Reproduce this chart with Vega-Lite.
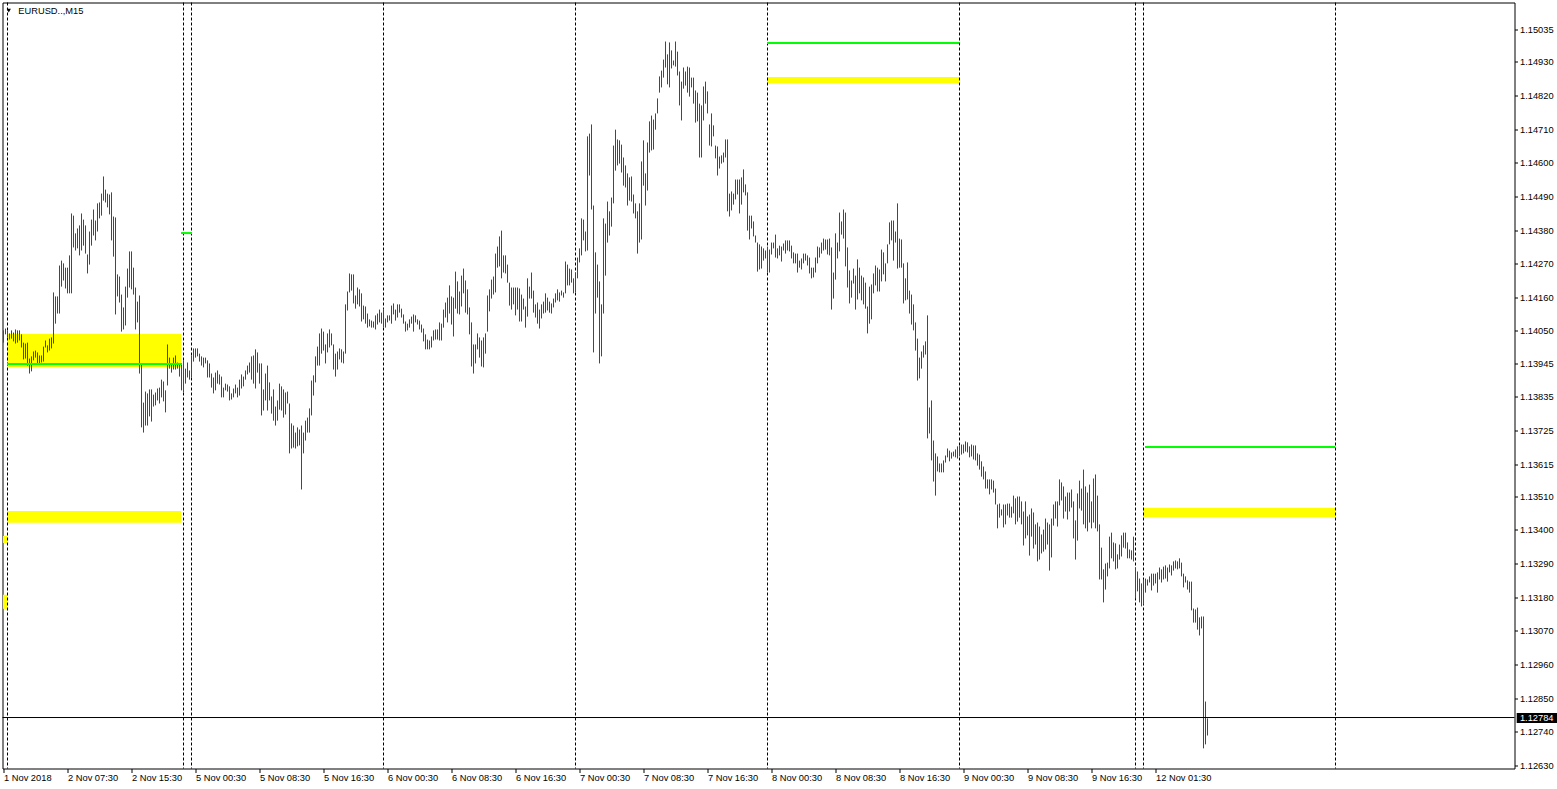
{
"$schema":"https://vega.github.io/schema/vega-lite/v6.json",
"width":1512,"height":766,
"autosize":{"type":"none"},
"padding":{"left":2.5,"top":2.5,"right":42.5,"bottom":20.5},
"background":"white",
"config":{"view":{"stroke":"black","strokeWidth":1},"text":{"font":"Liberation Sans"}},
"resolve":{"axis":{"x":"independent","y":"independent"}},
"datasets":{
"bars":[
{"i":0,"h":1.14052,"l":1.14012},{"i":1,"h":1.14058,"l":1.14039},{"i":2,"h":1.14052,"l":1.14029},{"i":3,"h":1.14042,"l":1.14022},{"i":4,"h":1.14052,"l":1.14025},{"i":5,"h":1.14045,"l":1.14016},{"i":6,"h":1.14055,"l":1.14009},{"i":7,"h":1.14052,"l":1.14012},{"i":8,"h":1.14052,"l":1.14019},{"i":9,"h":1.14039,"l":1.13996},
{"i":10,"h":1.14012,"l":1.13957},{"i":11,"h":1.14009,"l":1.13960},{"i":12,"h":1.14012,"l":1.13937},{"i":13,"h":1.13960,"l":1.13911},{"i":14,"h":1.13967,"l":1.13918},{"i":15,"h":1.13983,"l":1.13954},{"i":16,"h":1.13986,"l":1.13963},{"i":17,"h":1.13980,"l":1.13944},{"i":18,"h":1.13970,"l":1.13944},{"i":19,"h":1.13970,"l":1.13947},
{"i":20,"h":1.13999,"l":1.13950},{"i":21,"h":1.14019,"l":1.13996},{"i":22,"h":1.14003,"l":1.13980},{"i":23,"h":1.14025,"l":1.13986},{"i":24,"h":1.14029,"l":1.13993},{"i":25,"h":1.14176,"l":1.14009},{"i":26,"h":1.14163,"l":1.14074},{"i":27,"h":1.14163,"l":1.14107},{"i":28,"h":1.14264,"l":1.14107},{"i":29,"h":1.14280,"l":1.14195},
{"i":30,"h":1.14271,"l":1.14215},{"i":31,"h":1.14257,"l":1.14189},{"i":32,"h":1.14257,"l":1.14173},{"i":33,"h":1.14297,"l":1.14173},{"i":34,"h":1.14434,"l":1.14173},{"i":35,"h":1.14427,"l":1.14323},{"i":36,"h":1.14369,"l":1.14313},{"i":37,"h":1.14385,"l":1.14320},{"i":38,"h":1.14395,"l":1.14297},{"i":39,"h":1.14434,"l":1.14313},
{"i":40,"h":1.14414,"l":1.14329},{"i":41,"h":1.14395,"l":1.14303},{"i":42,"h":1.14300,"l":1.14238},{"i":43,"h":1.14375,"l":1.14267},{"i":44,"h":1.14414,"l":1.14329},{"i":45,"h":1.14447,"l":1.14362},{"i":46,"h":1.14411,"l":1.14346},{"i":47,"h":1.14467,"l":1.14375},{"i":48,"h":1.14470,"l":1.14418},{"i":49,"h":1.14499,"l":1.14427},
{"i":50,"h":1.14555,"l":1.14476},{"i":51,"h":1.14512,"l":1.14470},{"i":52,"h":1.14499,"l":1.14454},{"i":53,"h":1.14496,"l":1.14431},{"i":54,"h":1.14503,"l":1.14346},{"i":55,"h":1.14424,"l":1.14293},{"i":56,"h":1.14421,"l":1.14104},{"i":57,"h":1.14235,"l":1.14163},{"i":58,"h":1.14228,"l":1.14143},{"i":59,"h":1.14169,"l":1.14048},
{"i":60,"h":1.14127,"l":1.14055},{"i":61,"h":1.14195,"l":1.14068},{"i":62,"h":1.14254,"l":1.14159},{"i":63,"h":1.14310,"l":1.14192},{"i":64,"h":1.14310,"l":1.14186},{"i":65,"h":1.14257,"l":1.14169},{"i":66,"h":1.14192,"l":1.14055},{"i":67,"h":1.14146,"l":1.14078},{"i":68,"h":1.14166,"l":1.13911},{"i":69,"h":1.13940,"l":1.13735},
{"i":70,"h":1.13816,"l":1.13718},{"i":71,"h":1.13852,"l":1.13741},{"i":72,"h":1.13846,"l":1.13741},{"i":73,"h":1.13859,"l":1.13771},{"i":74,"h":1.13859,"l":1.13754},{"i":75,"h":1.13842,"l":1.13803},{"i":76,"h":1.13849,"l":1.13807},{"i":77,"h":1.13862,"l":1.13823},{"i":78,"h":1.13865,"l":1.13813},{"i":79,"h":1.13891,"l":1.13833},
{"i":80,"h":1.13885,"l":1.13820},{"i":81,"h":1.13856,"l":1.13784},{"i":82,"h":1.14006,"l":1.13872},{"i":83,"h":1.13963,"l":1.13927},{"i":84,"h":1.13944,"l":1.13914},{"i":85,"h":1.13963,"l":1.13924},{"i":86,"h":1.13970,"l":1.13924},{"i":87,"h":1.13947,"l":1.13927},{"i":88,"h":1.13944,"l":1.13901},{"i":89,"h":1.13940,"l":1.13856},
{"i":90,"h":1.13954,"l":1.13849},{"i":91,"h":1.13927,"l":1.13878},{"i":92,"h":1.13947,"l":1.13898},{"i":93,"h":1.13921,"l":1.13891},{"i":94,"h":1.13970,"l":1.13898},{"i":95,"h":1.13993,"l":1.13950},{"i":96,"h":1.13993,"l":1.13963},{"i":97,"h":1.13993,"l":1.13967},{"i":98,"h":1.13976,"l":1.13950},{"i":99,"h":1.13967,"l":1.13937},
{"i":100,"h":1.13963,"l":1.13931},{"i":101,"h":1.13963,"l":1.13944},{"i":102,"h":1.13954,"l":1.13898},{"i":103,"h":1.13944,"l":1.13898},{"i":104,"h":1.13911,"l":1.13865},{"i":105,"h":1.13898,"l":1.13846},{"i":106,"h":1.13914,"l":1.13856},{"i":107,"h":1.13921,"l":1.13878},{"i":108,"h":1.13908,"l":1.13875},{"i":109,"h":1.13901,"l":1.13833},
{"i":110,"h":1.13865,"l":1.13833},{"i":111,"h":1.13878,"l":1.13856},{"i":112,"h":1.13875,"l":1.13852},{"i":113,"h":1.13869,"l":1.13823},{"i":114,"h":1.13846,"l":1.13826},{"i":115,"h":1.13862,"l":1.13833},{"i":116,"h":1.13875,"l":1.13846},{"i":117,"h":1.13865,"l":1.13833},{"i":118,"h":1.13891,"l":1.13839},{"i":119,"h":1.13908,"l":1.13862},
{"i":120,"h":1.13901,"l":1.13869},{"i":121,"h":1.13921,"l":1.13891},{"i":122,"h":1.13937,"l":1.13908},{"i":123,"h":1.13947,"l":1.13914},{"i":124,"h":1.13967,"l":1.13891},{"i":125,"h":1.13970,"l":1.13878},{"i":126,"h":1.13990,"l":1.13862},{"i":127,"h":1.13980,"l":1.13914},{"i":128,"h":1.13944,"l":1.13878},{"i":129,"h":1.13944,"l":1.13774},
{"i":130,"h":1.13859,"l":1.13790},{"i":131,"h":1.13911,"l":1.13823},{"i":132,"h":1.13937,"l":1.13790},{"i":133,"h":1.13882,"l":1.13823},{"i":134,"h":1.13836,"l":1.13780},{"i":135,"h":1.13859,"l":1.13757},{"i":136,"h":1.13803,"l":1.13741},{"i":137,"h":1.13823,"l":1.13757},{"i":138,"h":1.13878,"l":1.13793},{"i":139,"h":1.13869,"l":1.13790},
{"i":140,"h":1.13859,"l":1.13767},{"i":141,"h":1.13849,"l":1.13777},{"i":142,"h":1.13852,"l":1.13813},{"i":143,"h":1.13813,"l":1.13650},{"i":144,"h":1.13748,"l":1.13666},{"i":145,"h":1.13741,"l":1.13669},{"i":146,"h":1.13718,"l":1.13666},{"i":147,"h":1.13735,"l":1.13673},{"i":148,"h":1.13728,"l":1.13676},{"i":149,"h":1.13741,"l":1.13532},
{"i":150,"h":1.13718,"l":1.13650},{"i":151,"h":1.13757,"l":1.13692},{"i":152,"h":1.13767,"l":1.13718},{"i":153,"h":1.13797,"l":1.13718},{"i":154,"h":1.13888,"l":1.13774},{"i":155,"h":1.13905,"l":1.13839},{"i":156,"h":1.13967,"l":1.13882},{"i":157,"h":1.13999,"l":1.13937},{"i":158,"h":1.14042,"l":1.13937},{"i":159,"h":1.14058,"l":1.13976},
{"i":160,"h":1.14048,"l":1.13986},{"i":161,"h":1.14006,"l":1.13944},{"i":162,"h":1.14042,"l":1.13980},{"i":163,"h":1.14055,"l":1.13996},{"i":164,"h":1.14042,"l":1.14003},{"i":165,"h":1.14006,"l":1.13924},{"i":166,"h":1.13976,"l":1.13901},{"i":167,"h":1.13983,"l":1.13924},{"i":168,"h":1.13993,"l":1.13957},{"i":169,"h":1.13990,"l":1.13947},
{"i":170,"h":1.13983,"l":1.13944},{"i":171,"h":1.14137,"l":1.13976},{"i":172,"h":1.14179,"l":1.14117},{"i":173,"h":1.14238,"l":1.14176},{"i":174,"h":1.14235,"l":1.14182},{"i":175,"h":1.14235,"l":1.14140},{"i":176,"h":1.14166,"l":1.14123},{"i":177,"h":1.14192,"l":1.14137},{"i":178,"h":1.14186,"l":1.14130},{"i":179,"h":1.14173,"l":1.14081},
{"i":180,"h":1.14133,"l":1.14088},{"i":181,"h":1.14130,"l":1.14074},{"i":182,"h":1.14107,"l":1.14061},{"i":183,"h":1.14088,"l":1.14065},{"i":184,"h":1.14084,"l":1.14061},{"i":185,"h":1.14081,"l":1.14061},{"i":186,"h":1.14101,"l":1.14055},{"i":187,"h":1.14107,"l":1.14071},{"i":188,"h":1.14120,"l":1.14078},{"i":189,"h":1.14110,"l":1.14074},
{"i":190,"h":1.14123,"l":1.14061},{"i":191,"h":1.14091,"l":1.14061},{"i":192,"h":1.14101,"l":1.14078},{"i":193,"h":1.14101,"l":1.14084},{"i":194,"h":1.14133,"l":1.14074},{"i":195,"h":1.14140,"l":1.14104},{"i":196,"h":1.14120,"l":1.14084},{"i":197,"h":1.14137,"l":1.14094},{"i":198,"h":1.14137,"l":1.14110},{"i":199,"h":1.14123,"l":1.14094},
{"i":200,"h":1.14104,"l":1.14074},{"i":201,"h":1.14081,"l":1.14048},{"i":202,"h":1.14074,"l":1.14052},{"i":203,"h":1.14088,"l":1.14061},{"i":204,"h":1.14097,"l":1.14074},{"i":205,"h":1.14104,"l":1.14048},{"i":206,"h":1.14101,"l":1.14078},{"i":207,"h":1.14088,"l":1.14071},{"i":208,"h":1.14084,"l":1.14055},{"i":209,"h":1.14071,"l":1.14045},
{"i":210,"h":1.14058,"l":1.14016},{"i":211,"h":1.14039,"l":1.13990},{"i":212,"h":1.14022,"l":1.13990},{"i":213,"h":1.14019,"l":1.13990},{"i":214,"h":1.14032,"l":1.13996},{"i":215,"h":1.14052,"l":1.14019},{"i":216,"h":1.14055,"l":1.14022},{"i":217,"h":1.14055,"l":1.14022},{"i":218,"h":1.14078,"l":1.14019},{"i":219,"h":1.14074,"l":1.14019},
{"i":220,"h":1.14120,"l":1.14061},{"i":221,"h":1.14143,"l":1.14094},{"i":222,"h":1.14159,"l":1.14078},{"i":223,"h":1.14199,"l":1.14107},{"i":224,"h":1.14163,"l":1.14071},{"i":225,"h":1.14159,"l":1.14032},{"i":226,"h":1.14244,"l":1.14123},{"i":227,"h":1.14212,"l":1.14107},{"i":228,"h":1.14179,"l":1.14104},{"i":229,"h":1.14231,"l":1.14130},
{"i":230,"h":1.14254,"l":1.14173},{"i":231,"h":1.14215,"l":1.14110},{"i":232,"h":1.14186,"l":1.14104},{"i":233,"h":1.14127,"l":1.14039},{"i":234,"h":1.14078,"l":1.13934},{"i":235,"h":1.14006,"l":1.13911},{"i":236,"h":1.14006,"l":1.13944},{"i":237,"h":1.14042,"l":1.13990},{"i":238,"h":1.14029,"l":1.13963},{"i":239,"h":1.14019,"l":1.13934},
{"i":240,"h":1.14029,"l":1.13931},{"i":241,"h":1.14042,"l":1.13976},{"i":242,"h":1.14166,"l":1.14048},{"i":243,"h":1.14186,"l":1.14114},{"i":244,"h":1.14218,"l":1.14156},{"i":245,"h":1.14228,"l":1.14169},{"i":246,"h":1.14303,"l":1.14176},{"i":247,"h":1.14326,"l":1.14257},{"i":248,"h":1.14359,"l":1.14261},{"i":249,"h":1.14378,"l":1.14222},
{"i":250,"h":1.14297,"l":1.14241},{"i":251,"h":1.14297,"l":1.14238},{"i":252,"h":1.14267,"l":1.14208},{"i":253,"h":1.14208,"l":1.14133},{"i":254,"h":1.14192,"l":1.14120},{"i":255,"h":1.14192,"l":1.14137},{"i":256,"h":1.14192,"l":1.14101},{"i":257,"h":1.14192,"l":1.14120},{"i":258,"h":1.14189,"l":1.14081},{"i":259,"h":1.14169,"l":1.14081},
{"i":260,"h":1.14156,"l":1.14120},{"i":261,"h":1.14130,"l":1.14061},{"i":262,"h":1.14222,"l":1.14097},{"i":263,"h":1.14195,"l":1.14156},{"i":264,"h":1.14241,"l":1.14156},{"i":265,"h":1.14182,"l":1.14110},{"i":266,"h":1.14137,"l":1.14094},{"i":267,"h":1.14143,"l":1.14074},{"i":268,"h":1.14120,"l":1.14058},{"i":269,"h":1.14137,"l":1.14091},
{"i":270,"h":1.14146,"l":1.14107},{"i":271,"h":1.14173,"l":1.14110},{"i":272,"h":1.14159,"l":1.14117},{"i":273,"h":1.14146,"l":1.14110},{"i":274,"h":1.14140,"l":1.14107},{"i":275,"h":1.14156,"l":1.14127},{"i":276,"h":1.14173,"l":1.14143},{"i":277,"h":1.14186,"l":1.14150},{"i":278,"h":1.14176,"l":1.14146},{"i":279,"h":1.14182,"l":1.14166},
{"i":280,"h":1.14176,"l":1.14159},{"i":281,"h":1.14277,"l":1.14173},{"i":282,"h":1.14267,"l":1.14199},{"i":283,"h":1.14254,"l":1.14199},{"i":284,"h":1.14251,"l":1.14208},{"i":285,"h":1.14222,"l":1.14173},{"i":286,"h":1.14241,"l":1.14176},{"i":287,"h":1.14290,"l":1.14222},{"i":288,"h":1.14320,"l":1.14274},{"i":289,"h":1.14418,"l":1.14297},
{"i":290,"h":1.14414,"l":1.14346},{"i":291,"h":1.14375,"l":1.14310},{"i":292,"h":1.14686,"l":1.14313},{"i":293,"h":1.14695,"l":1.14558},{"i":294,"h":1.14725,"l":1.14447},{"i":295,"h":1.14460,"l":1.13980},{"i":296,"h":1.14307,"l":1.14107},{"i":297,"h":1.14267,"l":1.14159},{"i":298,"h":1.14212,"l":1.13944},{"i":299,"h":1.14137,"l":1.13967},
{"i":300,"h":1.14418,"l":1.14107},{"i":301,"h":1.14401,"l":1.14231},{"i":302,"h":1.14473,"l":1.14339},{"i":303,"h":1.14441,"l":1.14362},{"i":304,"h":1.14486,"l":1.14391},{"i":305,"h":1.14656,"l":1.14467},{"i":306,"h":1.14708,"l":1.14574},{"i":307,"h":1.14676,"l":1.14591},{"i":308,"h":1.14673,"l":1.14597},{"i":309,"h":1.14659,"l":1.14568},
{"i":310,"h":1.14617,"l":1.14525},{"i":311,"h":1.14591,"l":1.14519},{"i":312,"h":1.14565,"l":1.14460},{"i":313,"h":1.14552,"l":1.14476},{"i":314,"h":1.14555,"l":1.14473},{"i":315,"h":1.14496,"l":1.14434},{"i":316,"h":1.14467,"l":1.14418},{"i":317,"h":1.14441,"l":1.14303},{"i":318,"h":1.14467,"l":1.14339},{"i":319,"h":1.14604,"l":1.14349},
{"i":320,"h":1.14673,"l":1.14525},{"i":321,"h":1.14565,"l":1.14460},{"i":322,"h":1.14666,"l":1.14509},{"i":323,"h":1.14735,"l":1.14633},{"i":324,"h":1.14754,"l":1.14640},{"i":325,"h":1.14741,"l":1.14643},{"i":326,"h":1.14761,"l":1.14708},{"i":327,"h":1.14810,"l":1.14761},{"i":328,"h":1.14882,"l":1.14829},{"i":329,"h":1.14901,"l":1.14846},
{"i":330,"h":1.14937,"l":1.14878},{"i":331,"h":1.14996,"l":1.14911},{"i":332,"h":1.14954,"l":1.14856},{"i":333,"h":1.14993,"l":1.14846},{"i":334,"h":1.14967,"l":1.14908},{"i":335,"h":1.14934,"l":1.14918},{"i":336,"h":1.14996,"l":1.14914},{"i":337,"h":1.14963,"l":1.14885},{"i":338,"h":1.14898,"l":1.14787},{"i":339,"h":1.14865,"l":1.14738},
{"i":340,"h":1.14911,"l":1.14842},{"i":341,"h":1.14898,"l":1.14852},{"i":342,"h":1.14914,"l":1.14829},{"i":343,"h":1.14911,"l":1.14816},{"i":344,"h":1.14878,"l":1.14846},{"i":345,"h":1.14878,"l":1.14793},{"i":346,"h":1.14836,"l":1.14731},{"i":347,"h":1.14829,"l":1.14735},{"i":348,"h":1.14793,"l":1.14617},{"i":349,"h":1.14787,"l":1.14617},
{"i":350,"h":1.14849,"l":1.14738},{"i":351,"h":1.14865,"l":1.14793},{"i":352,"h":1.14833,"l":1.14761},{"i":353,"h":1.14725,"l":1.14656},{"i":354,"h":1.14761,"l":1.14653},{"i":355,"h":1.14722,"l":1.14686},{"i":356,"h":1.14656,"l":1.14614},{"i":357,"h":1.14653,"l":1.14558},{"i":358,"h":1.14620,"l":1.14581},{"i":359,"h":1.14624,"l":1.14597},
{"i":360,"h":1.14633,"l":1.14601},{"i":361,"h":1.14676,"l":1.14617},{"i":362,"h":1.14676,"l":1.14441},{"i":363,"h":1.14499,"l":1.14424},{"i":364,"h":1.14506,"l":1.14444},{"i":365,"h":1.14499,"l":1.14463},{"i":366,"h":1.14545,"l":1.14480},{"i":367,"h":1.14545,"l":1.14496},{"i":368,"h":1.14545,"l":1.14434},{"i":369,"h":1.14552,"l":1.14463},
{"i":370,"h":1.14578,"l":1.14503},{"i":371,"h":1.14529,"l":1.14493},{"i":372,"h":1.14503,"l":1.14378},{"i":373,"h":1.14427,"l":1.14349},{"i":374,"h":1.14427,"l":1.14385},{"i":375,"h":1.14408,"l":1.14359},{"i":376,"h":1.14362,"l":1.14339},{"i":377,"h":1.14339,"l":1.14244},{"i":378,"h":1.14333,"l":1.14251},{"i":379,"h":1.14326,"l":1.14254},
{"i":380,"h":1.14320,"l":1.14280},{"i":381,"h":1.14313,"l":1.14287},{"i":382,"h":1.14326,"l":1.14241},{"i":383,"h":1.14316,"l":1.14241},{"i":384,"h":1.14339,"l":1.14300},{"i":385,"h":1.14339,"l":1.14320},{"i":386,"h":1.14365,"l":1.14290},{"i":387,"h":1.14320,"l":1.14287},{"i":388,"h":1.14329,"l":1.14297},{"i":389,"h":1.14326,"l":1.14277},
{"i":390,"h":1.14336,"l":1.14313},{"i":391,"h":1.14346,"l":1.14303},{"i":392,"h":1.14346,"l":1.14313},{"i":393,"h":1.14346,"l":1.14310},{"i":394,"h":1.14329,"l":1.14287},{"i":395,"h":1.14307,"l":1.14271},{"i":396,"h":1.14303,"l":1.14271},{"i":397,"h":1.14303,"l":1.14241},{"i":398,"h":1.14280,"l":1.14257},{"i":399,"h":1.14287,"l":1.14251},
{"i":400,"h":1.14303,"l":1.14271},{"i":401,"h":1.14303,"l":1.14280},{"i":402,"h":1.14297,"l":1.14264},{"i":403,"h":1.14290,"l":1.14238},{"i":404,"h":1.14257,"l":1.14222},{"i":405,"h":1.14257,"l":1.14225},{"i":406,"h":1.14290,"l":1.14241},{"i":407,"h":1.14326,"l":1.14271},{"i":408,"h":1.14323,"l":1.14290},{"i":409,"h":1.14339,"l":1.14303},
{"i":410,"h":1.14352,"l":1.14313},{"i":411,"h":1.14349,"l":1.14316},{"i":412,"h":1.14349,"l":1.14300},{"i":413,"h":1.14352,"l":1.14297},{"i":414,"h":1.14323,"l":1.14120},{"i":415,"h":1.14241,"l":1.14156},{"i":416,"h":1.14369,"l":1.14218},{"i":417,"h":1.14339,"l":1.14287},{"i":418,"h":1.14437,"l":1.14310},{"i":419,"h":1.14408,"l":1.14365},
{"i":420,"h":1.14447,"l":1.14352},{"i":421,"h":1.14437,"l":1.14261},{"i":422,"h":1.14323,"l":1.14192},{"i":423,"h":1.14248,"l":1.14140},{"i":424,"h":1.14215,"l":1.14159},{"i":425,"h":1.14254,"l":1.14205},{"i":426,"h":1.14231,"l":1.14120},{"i":427,"h":1.14284,"l":1.14153},{"i":428,"h":1.14257,"l":1.14173},{"i":429,"h":1.14231,"l":1.14150},
{"i":430,"h":1.14225,"l":1.14137},{"i":431,"h":1.14208,"l":1.14123},{"i":432,"h":1.14130,"l":1.14042},{"i":433,"h":1.14195,"l":1.14074},{"i":434,"h":1.14202,"l":1.14088},{"i":435,"h":1.14238,"l":1.14173},{"i":436,"h":1.14264,"l":1.14199},{"i":437,"h":1.14257,"l":1.14179},{"i":438,"h":1.14251,"l":1.14179},{"i":439,"h":1.14316,"l":1.14212},
{"i":440,"h":1.14307,"l":1.14235},{"i":441,"h":1.14271,"l":1.14212},{"i":442,"h":1.14333,"l":1.14271},{"i":443,"h":1.14405,"l":1.14333},{"i":444,"h":1.14411,"l":1.14346},{"i":445,"h":1.14411,"l":1.14280},{"i":446,"h":1.14375,"l":1.14339},{"i":447,"h":1.14467,"l":1.14254},{"i":448,"h":1.14352,"l":1.14257},{"i":449,"h":1.14349,"l":1.14257},
{"i":450,"h":1.14271,"l":1.14140},{"i":451,"h":1.14222,"l":1.14150},{"i":452,"h":1.14274,"l":1.14153},{"i":453,"h":1.14182,"l":1.14107},{"i":454,"h":1.14169,"l":1.14071},{"i":455,"h":1.14137,"l":1.14052},{"i":456,"h":1.14078,"l":1.13986},{"i":457,"h":1.14025,"l":1.13888},{"i":458,"h":1.13963,"l":1.13895},{"i":459,"h":1.13983,"l":1.13927},
{"i":460,"h":1.14003,"l":1.13963},{"i":461,"h":1.14016,"l":1.13973},{"i":462,"h":1.14101,"l":1.13699},{"i":463,"h":1.13800,"l":1.13715},{"i":464,"h":1.13823,"l":1.13627},{"i":465,"h":1.13692,"l":1.13558},{"i":466,"h":1.13650,"l":1.13512},{"i":467,"h":1.13640,"l":1.13591},{"i":468,"h":1.13617,"l":1.13588},{"i":469,"h":1.13617,"l":1.13588},
{"i":470,"h":1.13627,"l":1.13588},{"i":471,"h":1.13643,"l":1.13620},{"i":472,"h":1.13666,"l":1.13637},{"i":473,"h":1.13659,"l":1.13624},{"i":474,"h":1.13653,"l":1.13633},{"i":475,"h":1.13656,"l":1.13640},{"i":476,"h":1.13663,"l":1.13637},{"i":477,"h":1.13673,"l":1.13633},{"i":478,"h":1.13676,"l":1.13640},{"i":479,"h":1.13679,"l":1.13646},
{"i":480,"h":1.13679,"l":1.13650},{"i":481,"h":1.13689,"l":1.13656},{"i":482,"h":1.13686,"l":1.13653},{"i":483,"h":1.13673,"l":1.13637},{"i":484,"h":1.13679,"l":1.13640},{"i":485,"h":1.13676,"l":1.13630},{"i":486,"h":1.13676,"l":1.13627},{"i":487,"h":1.13650,"l":1.13610},{"i":488,"h":1.13646,"l":1.13597},{"i":489,"h":1.13624,"l":1.13574},
{"i":490,"h":1.13607,"l":1.13565},{"i":491,"h":1.13591,"l":1.13535},{"i":492,"h":1.13565,"l":1.13535},{"i":493,"h":1.13565,"l":1.13516},{"i":494,"h":1.13565,"l":1.13532},{"i":495,"h":1.13561,"l":1.13522},{"i":496,"h":1.13535,"l":1.13483},{"i":497,"h":1.13483,"l":1.13405},{"i":498,"h":1.13486,"l":1.13440},{"i":499,"h":1.13467,"l":1.13447},
{"i":500,"h":1.13483,"l":1.13408},{"i":501,"h":1.13483,"l":1.13418},{"i":502,"h":1.13486,"l":1.13447},{"i":503,"h":1.13486,"l":1.13440},{"i":504,"h":1.13476,"l":1.13440},{"i":505,"h":1.13512,"l":1.13454},{"i":506,"h":1.13503,"l":1.13418},{"i":507,"h":1.13509,"l":1.13427},{"i":508,"h":1.13509,"l":1.13440},{"i":509,"h":1.13493,"l":1.13418},
{"i":510,"h":1.13460,"l":1.13349},{"i":511,"h":1.13493,"l":1.13372},{"i":512,"h":1.13444,"l":1.13382},{"i":513,"h":1.13450,"l":1.13316},{"i":514,"h":1.13470,"l":1.13378},{"i":515,"h":1.13457,"l":1.13339},{"i":516,"h":1.13418,"l":1.13352},{"i":517,"h":1.13424,"l":1.13297},{"i":518,"h":1.13411,"l":1.13303},{"i":519,"h":1.13385,"l":1.13323},
{"i":520,"h":1.13401,"l":1.13329},{"i":521,"h":1.13437,"l":1.13336},{"i":522,"h":1.13424,"l":1.13352},{"i":523,"h":1.13418,"l":1.13267},{"i":524,"h":1.13437,"l":1.13310},{"i":525,"h":1.13483,"l":1.13414},{"i":526,"h":1.13493,"l":1.13437},{"i":527,"h":1.13493,"l":1.13411},{"i":528,"h":1.13565,"l":1.13480},{"i":529,"h":1.13555,"l":1.13496},
{"i":530,"h":1.13542,"l":1.13437},{"i":531,"h":1.13509,"l":1.13460},{"i":532,"h":1.13522,"l":1.13434},{"i":533,"h":1.13522,"l":1.13460},{"i":534,"h":1.13532,"l":1.13473},{"i":535,"h":1.13493,"l":1.13372},{"i":536,"h":1.13431,"l":1.13303},{"i":537,"h":1.13519,"l":1.13365},{"i":538,"h":1.13561,"l":1.13470},{"i":539,"h":1.13535,"l":1.13463},
{"i":540,"h":1.13597,"l":1.13418},{"i":541,"h":1.13542,"l":1.13405},{"i":542,"h":1.13522,"l":1.13395},{"i":543,"h":1.13548,"l":1.13424},{"i":544,"h":1.13493,"l":1.13405},{"i":545,"h":1.13568,"l":1.13424},{"i":546,"h":1.13581,"l":1.13405},{"i":547,"h":1.13512,"l":1.13395},{"i":548,"h":1.13418,"l":1.13238},{"i":549,"h":1.13342,"l":1.13238},
{"i":550,"h":1.13271,"l":1.13163},{"i":551,"h":1.13290,"l":1.13205},{"i":552,"h":1.13293,"l":1.13248},{"i":553,"h":1.13378,"l":1.13274},{"i":554,"h":1.13391,"l":1.13307},{"i":555,"h":1.13359,"l":1.13297},{"i":556,"h":1.13356,"l":1.13271},{"i":557,"h":1.13320,"l":1.13274},{"i":558,"h":1.13352,"l":1.13303},{"i":559,"h":1.13382,"l":1.13313},
{"i":560,"h":1.13391,"l":1.13342},{"i":561,"h":1.13391,"l":1.13339},{"i":562,"h":1.13359,"l":1.13307},{"i":563,"h":1.13336,"l":1.13307},{"i":564,"h":1.13333,"l":1.13303},{"i":565,"h":1.13378,"l":1.13297},{"i":566,"h":1.13277,"l":1.13176},{"i":567,"h":1.13264,"l":1.13199},{"i":568,"h":1.13241,"l":1.13163},{"i":569,"h":1.13225,"l":1.13150},
{"i":570,"h":1.13238,"l":1.13156},{"i":571,"h":1.13241,"l":1.13195},{"i":572,"h":1.13238,"l":1.13218},{"i":573,"h":1.13248,"l":1.13228},{"i":574,"h":1.13257,"l":1.13202},{"i":575,"h":1.13257,"l":1.13218},{"i":576,"h":1.13257,"l":1.13225},{"i":577,"h":1.13261,"l":1.13195},{"i":578,"h":1.13277,"l":1.13238},{"i":579,"h":1.13271,"l":1.13228},
{"i":580,"h":1.13280,"l":1.13238},{"i":581,"h":1.13284,"l":1.13241},{"i":582,"h":1.13277,"l":1.13231},{"i":583,"h":1.13287,"l":1.13261},{"i":584,"h":1.13284,"l":1.13251},{"i":585,"h":1.13297,"l":1.13267},{"i":586,"h":1.13300,"l":1.13274},{"i":587,"h":1.13297,"l":1.13271},{"i":588,"h":1.13307,"l":1.13274},{"i":589,"h":1.13293,"l":1.13248},
{"i":590,"h":1.13257,"l":1.13212},{"i":591,"h":1.13248,"l":1.13228},{"i":592,"h":1.13235,"l":1.13205},{"i":593,"h":1.13231,"l":1.13195},{"i":594,"h":1.13231,"l":1.13137},{"i":595,"h":1.13143,"l":1.13097},{"i":596,"h":1.13140,"l":1.13097},{"i":597,"h":1.13146,"l":1.13074},{"i":598,"h":1.13114,"l":1.13055},{"i":599,"h":1.13117,"l":1.13078},
{"i":600,"h":1.13117,"l":1.12686},{"i":601,"h":1.12839,"l":1.12699},{"i":602,"h":1.12784,"l":1.12728}
],
"zones":[
{"a":1.75,"b":88.75,"t":1.14040,"u":1.13932},
{"a":1.75,"b":88.75,"t":1.13462,"u":1.13423},
{"a":-0.25,"b":1.75,"t":1.13380,"u":1.13357},
{"a":-0.25,"b":1.75,"t":1.13188,"u":1.13142},
{"a":381.75,"b":477.75,"t":1.14880,"u":1.14860},
{"a":569.75,"b":665.75,"t":1.13472,"u":1.13442}
],
"greens":[
{"a":1.75,"b":89.25,"p":1.13942},
{"a":88.75,"b":94.25,"p":1.14370},
{"a":381.75,"b":477.75,"p":1.14991},
{"a":570.75,"b":665.75,"p":1.13671}
],
"seps":[{"d":2},{"d":90},{"d":94},{"d":190},{"d":286},{"d":382},{"d":478},{"d":566},{"d":570},{"d":666}],
"one":[{"k":1}]
},
"layer":[
{"data":{"name":"zones"},"mark":{"type":"rect","color":"#ffff00"},
 "encoding":{
  "x":{"field":"a","type":"quantitative","scale":{"domain":[-0.5,755.5],"nice":false,"zero":false},"axis":null},
  "x2":{"field":"b"},
  "y":{"field":"t","type":"quantitative","scale":{"domain":[1.126202,1.151235],"nice":false,"zero":false},"axis":null},
  "y2":{"field":"u"}}},
{"data":{"name":"seps"},"mark":{"type":"rule","color":"black","strokeWidth":1,"strokeDash":[3,2]},
 "encoding":{"x":{"field":"d","type":"quantitative","scale":{"domain":[-0.5,755.5],"nice":false,"zero":false},"axis":null}}},
{"data":{"name":"bars"},"mark":{"type":"rule","color":"#ee0000","strokeWidth":1},
 "encoding":{
  "x":{"field":"i","type":"quantitative","scale":{"domain":[-0.5,755.5],"nice":false,"zero":false},
   "axis":{"orient":"bottom","title":null,"grid":false,"domain":false,"values":[0,32,64,96,128,160,192,224,256,288,320,352,384,416,448,480,512,544,576],
    "labelExpr":"['1 Nov 2018','2 Nov 07:30','2 Nov 15:30','5 Nov 00:30','5 Nov 08:30','5 Nov 16:30','6 Nov 00:30','6 Nov 08:30','6 Nov 16:30','7 Nov 00:30','7 Nov 08:30','7 Nov 16:30','8 Nov 00:30','8 Nov 08:30','8 Nov 16:30','9 Nov 00:30','9 Nov 08:30','9 Nov 16:30','12 Nov 01:30'][round(datum.value/32)]",
    "labelAlign":"left","labelBaseline":"top","labelDx":-1,"labelPadding":1,"labelFlush":false,"labelOverlap":false,
    "labelFont":"Liberation Sans","labelFontSize":9.3,"labelColor":"black","tickColor":"black","tickSize":4,"tickWidth":1}},
  "y":{"field":"l","type":"quantitative","scale":{"domain":[1.126202,1.151235],"nice":false,"zero":false},
   "axis":{"orient":"right","title":null,"grid":false,"domain":false,
    "values":[1.15035,1.1493,1.1482,1.1471,1.146,1.1449,1.1438,1.1427,1.1416,1.1405,1.13945,1.13835,1.13725,1.13615,1.1351,1.134,1.1329,1.1318,1.1307,1.1296,1.1285,1.1274,1.1263],
    "format":".5f","labelAlign":"left","labelBaseline":"middle","labelPadding":2,"labelFlush":false,"labelOverlap":false,
    "labelFont":"Liberation Sans","labelFontSize":9.3,"labelColor":"black","tickColor":"black","tickSize":3,"tickWidth":1}},
  "y2":{"field":"h"}}},
{"data":{"name":"greens"},"mark":{"type":"rule","color":"#00ff00","strokeWidth":2},
 "encoding":{
  "x":{"field":"a","type":"quantitative","scale":{"domain":[-0.5,755.5],"nice":false,"zero":false},"axis":null},
  "x2":{"field":"b"},
  "y":{"field":"p","type":"quantitative","scale":{"domain":[1.126202,1.151235],"nice":false,"zero":false},"axis":null}}},
{"data":{"name":"one"},"mark":{"type":"rule","color":"black","strokeWidth":1},
 "encoding":{
  "x":{"datum":-0.5,"type":"quantitative","scale":{"domain":[-0.5,755.5],"nice":false,"zero":false},"axis":null},
  "x2":{"datum":755.5},
  "y":{"datum":1.127868,"type":"quantitative","scale":{"domain":[1.126202,1.151235],"nice":false,"zero":false},"axis":null}}},
{"data":{"name":"one"},"mark":{"type":"rect","color":"black","clip":false},
 "encoding":{
  "x":{"datum":756.6,"type":"quantitative","scale":{"domain":[-0.5,755.5],"nice":false,"zero":false},"axis":null},
  "x2":{"datum":780},
  "y":{"datum":1.128016,"type":"quantitative","scale":{"domain":[1.126202,1.151235],"nice":false,"zero":false},"axis":null},
  "y2":{"datum":1.127690}}},
{"data":{"name":"one"},"mark":{"type":"text","color":"white","font":"Liberation Sans","fontSize":9.3,"align":"left","baseline":"middle","clip":false},
 "encoding":{
  "x":{"datum":758.2,"type":"quantitative","scale":{"domain":[-0.5,755.5],"nice":false,"zero":false},"axis":null},
  "y":{"datum":1.12784,"type":"quantitative","scale":{"domain":[1.126202,1.151235],"nice":false,"zero":false},"axis":null},
  "text":{"value":"1.12784"}}},
{"data":{"name":"one"},"mark":{"type":"text","color":"black","font":"Liberation Sans","fontSize":9.3,"align":"left","baseline":"alphabetic"},
 "encoding":{
  "x":{"datum":7.4,"type":"quantitative","scale":{"domain":[-0.5,755.5],"nice":false,"zero":false},"axis":null},
  "y":{"datum":1.150849,"type":"quantitative","scale":{"domain":[1.126202,1.151235],"nice":false,"zero":false},"axis":null},
  "text":{"value":"EURUSD..,M15"}}},
{"data":{"name":"one"},"mark":{"type":"point","shape":"triangle-down","filled":true,"color":"black","size":18,"opacity":1},
 "encoding":{
  "x":{"datum":2.65,"type":"quantitative","scale":{"domain":[-0.5,755.5],"nice":false,"zero":false},"axis":null},
  "y":{"datum":1.150967,"type":"quantitative","scale":{"domain":[1.126202,1.151235],"nice":false,"zero":false},"axis":null}}}
]
}
